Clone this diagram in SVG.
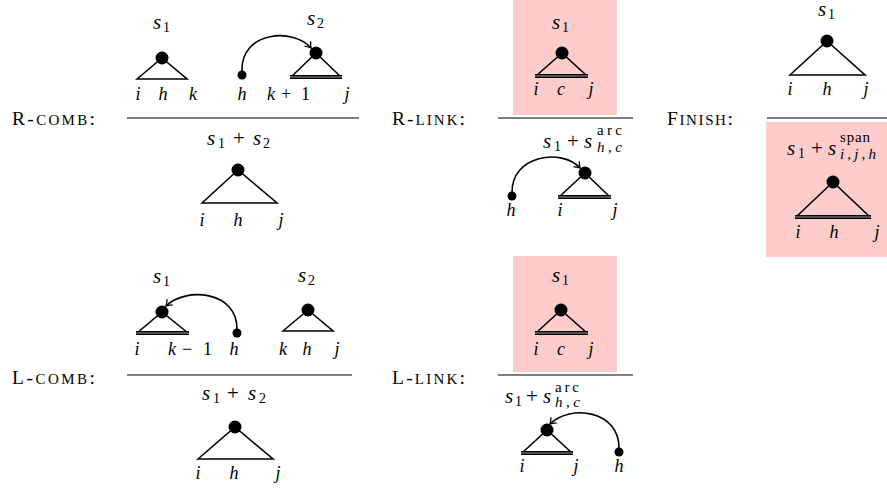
<svg xmlns="http://www.w3.org/2000/svg" width="887" height="491" viewBox="0 0 887 491" font-family="'Liberation Serif', 'DejaVu Serif', serif">
<style>
text{font-family:"Liberation Serif","DejaVu Serif",serif;fill:#000}
.mi{font-style:italic;font-size:21px}
.lb{font-style:italic;font-size:18px;text-anchor:middle}
.lbs{font-style:italic;font-size:18px}
.rm{font-size:21px}
.rm18{font-size:18px}
.sb{font-size:14px}
.sbi{font-style:italic;font-size:15px}
.sp{font-size:15px}
.rl{font-size:19.5px}
.tri{fill:none;stroke:#000;stroke-width:1.6;stroke-linejoin:miter}
.dbo{stroke:#000;stroke-width:4}
.dbi{stroke:#a0a0a0;stroke-width:1.2}
.dot{fill:#000}
.rule{stroke:#000;stroke-width:1.2}
.arc{fill:none;stroke:#000;stroke-width:1.6}
.pink{fill:#ffcccc}
</style>
<defs>
<marker id="arr" viewBox="-7 -5 9 10" refX="0" refY="0" markerWidth="9" markerHeight="10" markerUnits="userSpaceOnUse" orient="auto">
<path d="M-5.5,-4 Q-2,-1 0,0 Q-2,1 -5.5,4" fill="none" stroke="#000" stroke-width="1.3"/>
</marker>
</defs>

<g id="backgrounds">
<rect class="pink" x="513" y="0" width="104" height="115"/>
<rect class="pink" x="766" y="122" width="121" height="135"/>
<rect class="pink" x="513" y="256" width="104" height="116"/>
</g>

<g id="rule-labels">
<text class="rl" x="12" y="125" textLength="83" lengthAdjust="spacing">R-<tspan font-size="15">COMB</tspan>:</text>
<text class="rl" x="392" y="125" textLength="73" lengthAdjust="spacing">R-<tspan font-size="15">LINK</tspan>:</text>
<text class="rl" x="667" y="125" textLength="66" lengthAdjust="spacing">F<tspan font-size="15">INISH</tspan>:</text>
<text class="rl" x="12" y="384" textLength="83" lengthAdjust="spacing">L-<tspan font-size="15">COMB</tspan>:</text>
<text class="rl" x="392" y="384" textLength="73" lengthAdjust="spacing">L-<tspan font-size="15">LINK</tspan>:</text>
</g>

<g id="rules">
<line class="rule" x1="127" y1="118" x2="359" y2="118"/>
<line class="rule" x1="498" y1="118" x2="633" y2="118"/>
<line class="rule" x1="767" y1="118" x2="887" y2="118"/>
<line class="rule" x1="127" y1="375" x2="352" y2="375"/>
<line class="rule" x1="498" y1="375" x2="633" y2="375"/>
</g>

<!-- R-COMB -->
<g id="rcomb-left">
<text class="mi" x="153" y="29">s</text><text class="sb" x="163" y="32">1</text>
<path class="tri" d="M137,79 L162,58 L187,79 Z"/>
<circle class="dot" cx="162" cy="58" r="6.5"/>
<text class="lb" x="138" y="100">i</text><text class="lb" x="163" y="100">h</text><text class="lb" x="193" y="100">k</text>
</g>
<g id="rcomb-head">
<circle class="dot" cx="242" cy="75" r="4.5"/>
<text class="lb" x="242" y="100">h</text>
</g>
<g id="rcomb-right">
<text class="mi" x="307" y="25">s</text><text class="sb" x="317" y="28">2</text>
<path class="tri" d="M291,77 L316,53 L341,77"/>
<line class="dbo" x1="290" y1="77" x2="342" y2="77"/><line class="dbi" x1="290" y1="77" x2="342" y2="77"/>
<circle class="dot" cx="316" cy="53" r="6.5"/>
<text class="lbs" x="267" y="100">k</text><text class="rm18" x="281" y="100">+</text><text class="rm18" x="301" y="100">1</text>
<text class="lb" x="347" y="100">j</text>
</g>
<g id="rcomb-result">
<text class="mi" x="207" y="145">s</text><text class="sb" x="218" y="148">1</text>
<text class="rm" x="233" y="145">+</text>
<text class="mi" x="253" y="145">s</text><text class="sb" x="263" y="148">2</text>
<path class="tri" d="M202,203 L238,170 L277,203 Z"/>
<circle class="dot" cx="238" cy="170" r="6.5"/>
<text class="lb" x="202" y="226">i</text><text class="lb" x="238" y="226">h</text><text class="lb" x="281" y="226">j</text>
</g>

<!-- R-LINK -->
<g id="rlink-premise">
<text class="mi" x="552" y="29">s</text><text class="sb" x="562" y="32">1</text>
<path class="tri" d="M536,76 L562,53 L587,76"/>
<line class="dbo" x1="535" y1="76" x2="588" y2="76"/><line class="dbi" x1="535" y1="76" x2="588" y2="76"/>
<circle class="dot" cx="562" cy="53" r="6.5"/>
<text class="lb" x="536" y="95">i</text><text class="lb" x="561" y="95">c</text><text class="lb" x="591" y="95">j</text>
</g>
<g id="rlink-result">
<text class="mi" x="543" y="148">s</text><text class="sb" x="554" y="151">1</text>
<text class="rm" x="567" y="148">+</text>
<text class="mi" x="584" y="148">s</text>
<text class="sp" x="597" y="135" textLength="25" lengthAdjust="spacing">arc</text>
<text class="sbi" x="597" y="152" textLength="25" lengthAdjust="spacing">h,c</text>
<path class="tri" d="M559,197 L585,173 L610,197"/>
<line class="dbo" x1="558" y1="197" x2="611" y2="197"/><line class="dbi" x1="558" y1="197" x2="611" y2="197"/>
<circle class="dot" cx="585" cy="173" r="6.5"/>
<text class="lb" x="560" y="216">i</text><text class="lb" x="615" y="216">j</text>
</g>
<g id="rlink-head">
<circle class="dot" cx="512" cy="196" r="4.5"/>
<text class="lb" x="511" y="216">h</text>
</g>

<!-- FINISH -->
<g id="finish-premise">
<text class="mi" x="818" y="16">s</text><text class="sb" x="828" y="19">1</text>
<path class="tri" d="M790,75 L827,41 L865,75 Z"/>
<circle class="dot" cx="827" cy="41" r="6.5"/>
<text class="lb" x="790" y="95">i</text><text class="lb" x="827" y="95">h</text><text class="lb" x="866" y="95">j</text>
</g>
<g id="finish-result">
<text class="mi" x="787" y="155">s</text><text class="sb" x="798" y="158">1</text>
<text class="rm" x="811" y="155">+</text>
<text class="mi" x="828" y="155">s</text>
<text class="sp" x="840" y="142" textLength="30" lengthAdjust="spacing">span</text>
<text class="sbi" x="840" y="159" textLength="36" lengthAdjust="spacing">i,j,h</text>
<path class="tri" d="M796,217 L833,182 L870,217"/>
<line class="dbo" x1="795" y1="217" x2="871" y2="217"/><line class="dbi" x1="795" y1="217" x2="871" y2="217"/>
<circle class="dot" cx="833" cy="182" r="6.5"/>
<text class="lb" x="798" y="238">i</text><text class="lb" x="834" y="238">h</text><text class="lb" x="877" y="238">j</text>
</g>

<!-- L-COMB -->
<g id="lcomb-left">
<text class="mi" x="153" y="283">s</text><text class="sb" x="163" y="286">1</text>
<path class="tri" d="M137,333 L162,312 L188,333"/>
<line class="dbo" x1="136" y1="333" x2="189" y2="333"/><line class="dbi" x1="136" y1="333" x2="189" y2="333"/>
<circle class="dot" cx="162" cy="312" r="6.5"/>
<text class="lb" x="137" y="355">i</text>
<text class="lbs" x="168" y="355">k</text><text class="rm18" x="182" y="355">−</text><text class="rm18" x="203" y="355">1</text>
</g>
<g id="lcomb-head">
<circle class="dot" cx="237" cy="333" r="4.5"/>
<text class="lb" x="234" y="355">h</text>
</g>
<g id="lcomb-right">
<text class="mi" x="298" y="282">s</text><text class="sb" x="308" y="285">2</text>
<path class="tri" d="M283,331 L308,310 L333,331 Z"/>
<circle class="dot" cx="308" cy="310" r="6.5"/>
<text class="lb" x="283" y="355">k</text><text class="lb" x="307" y="355">h</text><text class="lb" x="337" y="355">j</text>
</g>
<g id="lcomb-result">
<text class="mi" x="202" y="400">s</text><text class="sb" x="213" y="403">1</text>
<text class="rm" x="227" y="400">+</text>
<text class="mi" x="248" y="400">s</text><text class="sb" x="259" y="403">2</text>
<path class="tri" d="M198,459 L235,427 L273,459 Z"/>
<circle class="dot" cx="235" cy="427" r="6.5"/>
<text class="lb" x="198" y="479">i</text><text class="lb" x="234" y="479">h</text><text class="lb" x="278" y="479">j</text>
</g>

<!-- L-LINK -->
<g id="llink-premise">
<text class="mi" x="552" y="282">s</text><text class="sb" x="562" y="285">1</text>
<path class="tri" d="M536,333 L561,310 L587,333"/>
<line class="dbo" x1="535" y1="333" x2="588" y2="333"/><line class="dbi" x1="535" y1="333" x2="588" y2="333"/>
<circle class="dot" cx="561" cy="310" r="6.5"/>
<text class="lb" x="536" y="355">i</text><text class="lb" x="561" y="355">c</text><text class="lb" x="591" y="355">j</text>
</g>
<g id="llink-result">
<text class="mi" x="505" y="403">s</text><text class="sb" x="515" y="406">1</text>
<text class="rm" x="526" y="403">+</text>
<text class="mi" x="543" y="403">s</text>
<text class="sp" x="555" y="392" textLength="24" lengthAdjust="spacing">arc</text>
<text class="sbi" x="555" y="407" textLength="25" lengthAdjust="spacing">h,c</text>
<path class="tri" d="M522,453 L547,430 L572,453"/>
<line class="dbo" x1="521" y1="453" x2="573" y2="453"/><line class="dbi" x1="521" y1="453" x2="573" y2="453"/>
<circle class="dot" cx="547" cy="430" r="6.5"/>
<text class="lb" x="522" y="472">i</text><text class="lb" x="576" y="472">j</text>
</g>
<g id="llink-head">
<circle class="dot" cx="619" cy="452" r="4.5"/>
<text class="lb" x="619" y="472">h</text>
</g>

<g id="connectors">
<path class="arc" d="M242,72 C240,30 295,28 311,48" marker-end="url(#arr)"/>
<path class="arc" d="M512,193 C511,155 562,148 580,168" marker-end="url(#arr)"/>
<path class="arc" d="M237,330 C238,290 185,287 166,306" marker-end="url(#arr)"/>
<path class="arc" d="M619,449 C620,410 570,404 550,424" marker-end="url(#arr)"/>
</g>
</svg>
